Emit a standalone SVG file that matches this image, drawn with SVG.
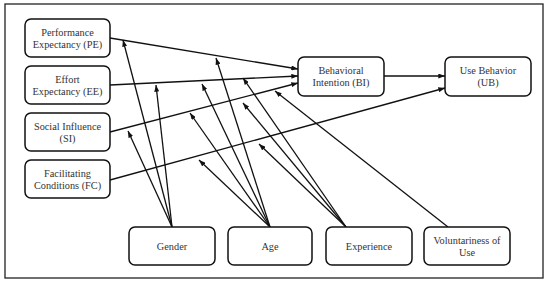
<svg xmlns="http://www.w3.org/2000/svg" width="550" height="282" viewBox="0 0 550 282">
<defs>
<style>
.box{fill:#fff;stroke:#111;stroke-width:1.5}
.t{font-family:'Liberation Serif', 'Times New Roman', serif;font-size:10.3px;fill:#333;text-anchor:middle}
.c{stroke:#111;stroke-width:1.3;fill:none;marker-end:url(#ah)}
</style>
<marker id="ah" viewBox="0 0 8 6" refX="8" refY="3" markerWidth="7" markerHeight="5" markerUnits="userSpaceOnUse" orient="auto">
<path d="M0,0 L8,3 L0,6 z" fill="#111"/>
</marker>
</defs>
<rect x="0" y="0" width="550" height="282" fill="#fff"/>
<rect x="5" y="4" width="538" height="274" fill="none" stroke="#222" stroke-width="1.3"/>
<g id="connectors">
<line class="c" x1="110" y1="38" x2="298" y2="69"/>
<line class="c" x1="110" y1="85" x2="298" y2="76"/>
<line class="c" x1="110" y1="132" x2="298" y2="83"/>
<line class="c" x1="110" y1="180" x2="445" y2="88"/>
<line class="c" x1="384" y1="76" x2="445" y2="76"/>
<line class="c" x1="172" y1="227" x2="123" y2="40"/>
<line class="c" x1="172" y1="227" x2="156" y2="85"/>
<line class="c" x1="172" y1="227" x2="128" y2="131"/>
<line class="c" x1="270" y1="227" x2="216" y2="58"/>
<line class="c" x1="270" y1="227" x2="202" y2="84"/>
<line class="c" x1="270" y1="227" x2="190" y2="113"/>
<line class="c" x1="270" y1="227" x2="199" y2="160"/>
<line class="c" x1="346" y1="227" x2="243" y2="78"/>
<line class="c" x1="346" y1="227" x2="243" y2="103"/>
<line class="c" x1="346" y1="227" x2="259" y2="144"/>
<line class="c" x1="448" y1="227" x2="275" y2="91"/>
</g>
<g id="PE"><rect class="box" x="25" y="19" width="85" height="38" rx="6"/><text class="t" x="67.5" y="36">Performance</text><text class="t" x="67.5" y="47.5">Expectancy (PE)</text></g>
<g id="EE"><rect class="box" x="25" y="66" width="85" height="38" rx="6"/><text class="t" x="67.5" y="83">Effort</text><text class="t" x="67.5" y="94.5">Expectancy (EE)</text></g>
<g id="SI"><rect class="box" x="25" y="113" width="85" height="38" rx="6"/><text class="t" x="67.5" y="130">Social Influence</text><text class="t" x="67.5" y="141.5">(SI)</text></g>
<g id="FC"><rect class="box" x="25" y="160" width="85" height="38" rx="6"/><text class="t" x="67.5" y="177">Facilitating</text><text class="t" x="67.5" y="188.5">Conditions (FC)</text></g>
<g id="BI"><rect class="box" x="298" y="57" width="86" height="39" rx="6"/><text class="t" x="341" y="74">Behavioral</text><text class="t" x="341" y="86">Intention (BI)</text></g>
<g id="UB"><rect class="box" x="445" y="57" width="86" height="39" rx="6"/><text class="t" x="488" y="74">Use Behavior</text><text class="t" x="488" y="86">(UB)</text></g>
<g id="Gender"><rect class="box" x="129" y="227" width="86" height="38" rx="6"/><text class="t" x="172" y="249.5">Gender</text></g>
<g id="Age"><rect class="box" x="228" y="227" width="84" height="38" rx="6"/><text class="t" x="270" y="249.5">Age</text></g>
<g id="Experience"><rect class="box" x="326" y="227" width="86" height="38" rx="6"/><text class="t" x="369" y="249.5">Experience</text></g>
<g id="Voluntariness"><rect class="box" x="424" y="227" width="86" height="38" rx="6"/><text class="t" x="467" y="244">Voluntariness of</text><text class="t" x="467" y="256">Use</text></g>
</svg>
